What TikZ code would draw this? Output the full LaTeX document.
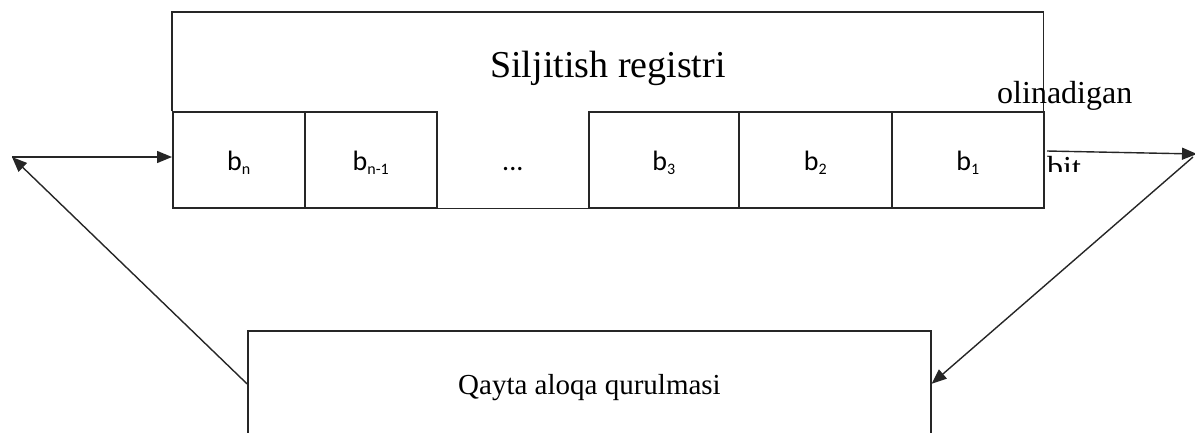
\documentclass[tikz,border=0pt]{standalone}
\usepackage{fontspec}
\setmainfont{Liberation Serif}
\newfontfamily\calfont{Carlito}
\usetikzlibrary{arrows.meta}
\newcommand\bsub[2]{#1\raisebox{-0.3ex}{\fontsize{16}{16}\selectfont #2}}
\begin{document}
\begin{tikzpicture}[x=1pt,y=-1pt,
  ln/.style={draw=black!85,line width=1.6pt},
  cell/.style={ln,anchor=north west,inner sep=0pt,minimum height=96pt,
    text height=22pt,text depth=0pt,
    font=\calfont\fontsize{28}{28}\selectfont},
  arr/.style={draw=black!85,line width=1.4pt,-{Triangle[length=15pt,width=12pt]}},
  lbl/.style={inner sep=0pt,font=\fontsize{32}{32}\selectfont}
]
\useasboundingbox (0,0) rectangle (1195,432);
\clip (0,0) rectangle (1195,432);
% shift register
\node[draw=none,anchor=north west,inner sep=0pt,minimum width=871pt,minimum height=99pt] (reg) at (172,12) {};
\draw[ln] (reg.south west) |- (reg.north east) -- (reg.south east);
\node[anchor=base,inner sep=0pt,font=\fontsize{38}{38}\selectfont] (regt) at (608,77) {Siljitish registri};
\node[cell,minimum width=132pt] (bn) at (172,111) {\bsub{b}{n}};
\node[cell,minimum width=132pt] (bn1) at (304,111) {\bsub{b}{n-1}};
\node[cell,draw=none,minimum width=152pt] (gap) at (436,111) {...};
\draw[ln] (gap.south west) -- (gap.south east);
\node[cell,minimum width=150pt] (b3) at (588,111) {\bsub{b}{3}};
\node[cell,minimum width=153pt] (b2) at (738,111) {\bsub{b}{2}};
\node[cell,minimum width=152pt] (b1) at (891,111) {\bsub{b}{1}};
% feedback device
\node[ln,anchor=north west,inner sep=0pt,minimum width=683pt,minimum height=106pt] (qa) at (247,330) {};
\node[anchor=base,inner sep=0pt,font=\fontsize{29}{29}\selectfont] (qat) at (589.5,394) {Qayta aloqa qurulmasi};
% labels
\node[lbl,anchor=base west] (oli) at (997,103) {olinadigan};
\begin{scope}
  \clip (1040,140) rectangle (1110,171);
  \node[lbl,anchor=base west] (bit) at (1047,178) {bit};
\end{scope}
% coordinates
\coordinate (L) at (12,157);
\coordinate (R) at (1193,157);
\coordinate (o0) at (1047,151);
\coordinate (o1) at (1197,154);
% connectors
\draw[arr] (L) -- (L -| bn.west);
\draw[arr] (qa.west) -- (L);
\draw[arr] (o0) -- (o1);
\draw[arr] (R) -- (qa.east);
\end{tikzpicture}
\end{document}
